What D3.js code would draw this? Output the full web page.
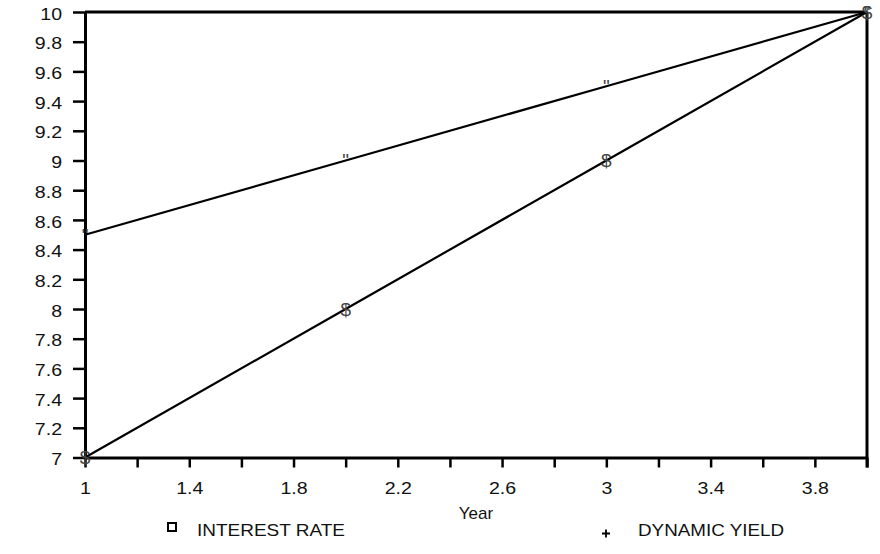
<!DOCTYPE html>
<html>
<head>
<meta charset="utf-8">
<script src="https://cdn.jsdelivr.net/npm/d3@7"></script>
<style>
  html, body { margin: 0; padding: 0; background: #fff; }
  svg { display: block; font-family: Arial, "Liberation Sans", sans-serif; }
</style>
</head>
<body>
<svg id="chart" width="880" height="554"></svg>
<script>
// ---- data ----
const years = [1, 2, 3, 4];
const interestRate = [8.5, 9, 9.5, 10];
const dynamicYield = [7, 8, 9, 10];
const seriesNames = ["INTEREST RATE", "DYNAMIC YIELD"];
const seriesMarkers = ["\"", "$"];
const legendSymbols = ["square", "plus"];
const xTicks = [1, 1.2, 1.4, 1.6, 1.8, 2, 2.2, 2.4, 2.6, 2.8, 3, 3.2, 3.4, 3.6, 3.8, 4];
const xTickLabels = ["1", "1.4", "1.8", "2.2", "2.6", "3", "3.4", "3.8"];
const yTicks = [7, 7.2, 7.4, 7.6, 7.8, 8, 8.2, 8.4, 8.6, 8.8, 9, 9.2, 9.4, 9.6, 9.8, 10];
const xTitle = "Year";

// ---- layout ----
const svg = d3.select("#chart");
const mLeft = 85, mRight = 867, mTop = 12, mBottom = 457.5;
const x = d3.scaleLinear().domain([1, 4]).range([mLeft, mRight]);
const y = d3.scaleLinear().domain([7, 10]).range([mBottom, mTop]);
const ink = "#111";
const tickScale = 1.15;

// x axis
const xAxis = svg.append("g")
  .attr("transform", `translate(0,${mBottom})`)
  .call(d3.axisBottom(x).tickValues(xTicks).tickSize(10).tickSizeOuter(0).tickPadding(12)
    .tickFormat(d => { const s = String(+d.toFixed(1)); return xTickLabels.includes(s) ? s : ""; }));
xAxis.select(".domain").attr("stroke", "#000").attr("stroke-width", 3);
xAxis.selectAll(".tick line").attr("stroke", "#000").attr("stroke-width", 2.5);
xAxis.selectAll(".tick text").attr("fill", ink).attr("font-size", 17).attr("font-family", "Arial, 'Liberation Sans', sans-serif")
  .attr("transform", `scale(${tickScale},1)`).attr("y", 24.5);

// y axis
const yAxis = svg.append("g")
  .attr("transform", `translate(${mLeft},0)`)
  .call(d3.axisLeft(y).tickValues(yTicks).tickSize(12).tickSizeOuter(0).tickPadding(11)
    .tickFormat(d => String(+d.toFixed(1))));
yAxis.select(".domain").attr("stroke", "#000").attr("stroke-width", 3);
yAxis.selectAll(".tick line").attr("stroke", "#000").attr("stroke-width", 2.5);
yAxis.selectAll(".tick text").attr("fill", ink).attr("font-size", 17).attr("font-family", "Arial, 'Liberation Sans', sans-serif")
  .attr("transform", `scale(${tickScale},1)`).attr("x", -23 / tickScale).attr("dy", "0.42em");

// frame: top and right
svg.append("line").attr("x1", x(1)).attr("x2", x(4)).attr("y1", y(10)).attr("y2", y(10))
  .attr("stroke", "#000").attr("stroke-width", 3);
svg.append("line").attr("x1", x(4)).attr("x2", x(4)).attr("y1", y(10)).attr("y2", y(7) + 10)
  .attr("stroke", "#000").attr("stroke-width", 3);

// x title
svg.append("text").attr("x", (mLeft + mRight) / 2).attr("y", 518.5).attr("text-anchor", "middle")
  .attr("font-size", 17).attr("fill", ink).text(xTitle);

// series
const series = [interestRate, dynamicYield];
const line = d3.line().x((d, i) => x(years[i])).y(d => y(d));
series.forEach((vals, si) => {
  svg.append("path").datum(vals).attr("d", line).attr("fill", "none")
    .attr("stroke", "#000").attr("stroke-width", 2.2);
  svg.append("g").selectAll("text").data(vals).join("text")
    .attr("x", (d, i) => x(years[i]))
    .attr("y", d => y(d) + 0.36 * 19)
    .attr("text-anchor", "middle")
    .attr("font-size", 19)
    .attr("fill", "#444")
    .text(seriesMarkers[si]);
});

// legend
const legendPos = [{sx: 172, tx: 197, w: 148}, {sx: 606, tx: 638, w: 146}];
legendSymbols.forEach((sym, i) => {
  const p = legendPos[i];
  if (sym === "square") {
    svg.append("rect").attr("x", p.sx - 4).attr("y", 523).attr("width", 8).attr("height", 8)
      .attr("fill", "none").attr("stroke", "#000").attr("stroke-width", 2);
  } else {
    svg.append("path").attr("d", `M${p.sx - 4},533.5H${p.sx + 4}M${p.sx},529.5V537.5`)
      .attr("stroke", "#000").attr("stroke-width", 1.8);
  }
  svg.append("text").attr("x", p.tx).attr("y", 535.5)
    .attr("font-size", 16.5).attr("fill", ink)
    .attr("textLength", p.w).attr("lengthAdjust", "spacingAndGlyphs")
    .text(seriesNames[i]);
});
</script>
</body>
</html>
